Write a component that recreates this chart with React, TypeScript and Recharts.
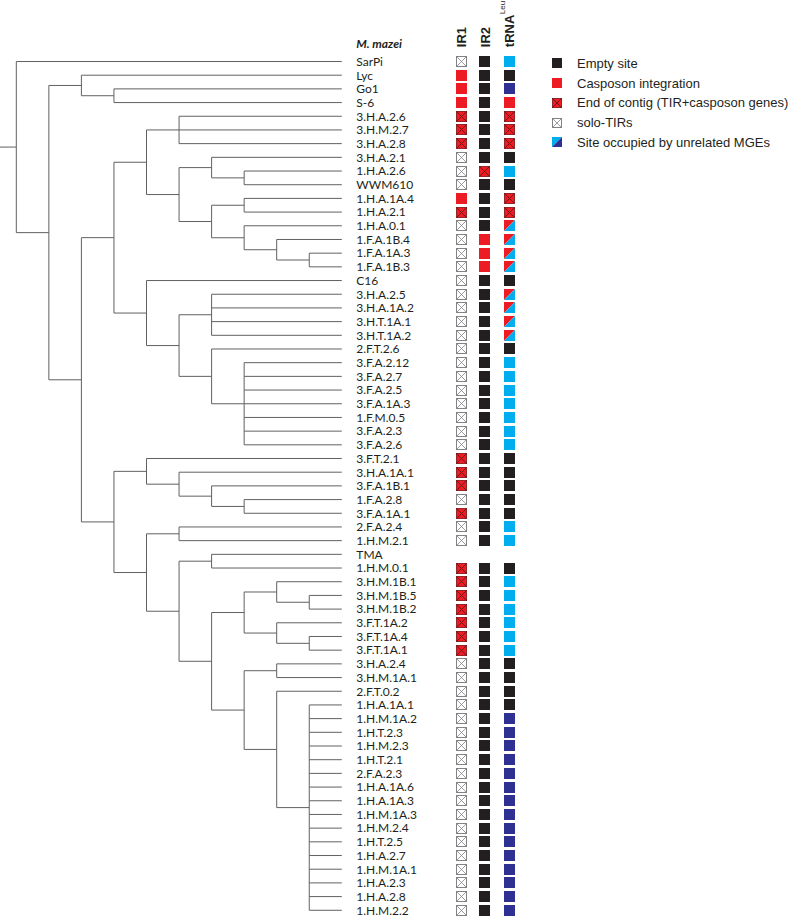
import React from 'react'
import { ComposedChart, XAxis, YAxis, Scatter, ReferenceLine, Legend } from 'recharts'

type Tree = string | Tree[]

const CHART_W = 799
const CHART_H = 918

// pixel layout of the figure
const ROOT_PX = 16.3 // x of the root node
const DEPTH_PX = 32.55 // x step per tree level
const ROW0_PX = 61.5 // y of the first leaf
const ROW_PX = 13.69 // y step per leaf
const COL0_PX = 461 // x of the first state column
const COL_PX = 24 // x step per state column

const LEAF_DEPTH = 10
const HEADER_ROW = -1.3
const COL_HEADER_ROW = -1.05

const INK = '#231f20'
const RED = '#ed1c24'
const CYAN = '#00aeef'
const NAVY = '#2e3192'
const GREY = '#808285'
const BRANCH = '#606163'

// cladogram, leaf order = row order
const TREE: Tree = [
  'SarPi',
  [
    ['Lyc', ['Go1', 'S-6']],
    [
      [
        [
          ['3.H.A.2.6', '3.H.M.2.7', '3.H.A.2.8'],
          [
            ['3.H.A.2.1', ['1.H.A.2.6', 'WWM610']],
            [['1.H.A.1A.4', '1.H.A.2.1'], ['1.H.A.0.1', ['1.F.A.1B.4', ['1.F.A.1A.3', '1.F.A.1B.3']]]],
          ],
        ],
        [
          'C16',
          [
            ['3.H.A.2.5', '3.H.A.1A.2', '3.H.T.1A.1', '3.H.T.1A.2'],
            ['2.F.T.2.6', ['3.F.A.2.12', '3.F.A.2.7', '3.F.A.2.5', '3.F.A.1A.3', '1.F.M.0.5', '3.F.A.2.3', '3.F.A.2.6']],
          ],
        ],
      ],
      [
        ['3.F.T.2.1', ['3.H.A.1A.1', ['3.F.A.1B.1', ['1.F.A.2.8', '3.F.A.1A.1']]]],
        [
          ['2.F.A.2.4', '1.H.M.2.1'],
          [
            ['TMA', '1.H.M.0.1'],
            [
              [['3.H.M.1B.1', ['3.H.M.1B.5', '3.H.M.1B.2']], ['3.F.T.1A.2', ['3.F.T.1A.4', '3.F.T.1A.1']]],
              [
                ['3.H.A.2.4', '3.H.M.1A.1'],
                [
                  '2.F.T.0.2',
                  [
                    '1.H.A.1A.1', '1.H.M.1A.2', '1.H.T.2.3', '1.H.M.2.3', '1.H.T.2.1', '2.F.A.2.3',
                    '1.H.A.1A.6', '1.H.A.1A.3', '1.H.M.1A.3', '1.H.M.2.4', '1.H.T.2.5', '1.H.A.2.7',
                    '1.H.M.1A.1', '1.H.A.2.3', '1.H.A.2.8', '1.H.M.2.2',
                  ],
                ],
              ],
            ],
          ],
        ],
      ],
    ],
  ],
]

// site states per leaf (same order as the tree leaves)
// E empty, C casposon, X end of contig, S solo-TIR, M unrelated MGE, D unrelated MGE (dark), H casposon/MGE, - none
const COLUMNS = ['IR1', 'IR2', 'tRNA']
const IR1 = `S C C C X X X S S S
  C X S S S S S S S S
  S S S S S S S S S X
  X X S X S S - X X X
  X X X X S S S S S S
  S S S S S S S S S S
  S S S`.split(/\s+/)
const IR2 = `E E E E E E E E X E
  E E E C C C E E E E
  E E E E E E E E E E
  E E E E E E - E E E
  E E E E E E E E E E
  E E E E E E E E E E
  E E E`.split(/\s+/)
const TRNA = `M E D C X X X E M E
  X X H H H H E H H H
  H E M M M M M M M E
  E E E E M M - E M M
  M M M M E E E E D D
  D D D D D D D D D D
  D D D`.split(/\s+/)
const STATES = [IR1, IR2, TRNA]

const LEGEND_KINDS = ['E', 'C', 'X', 'S', 'G']
const LEGEND_LABELS = [
  'Empty site',
  'Casposon integration',
  'End of contig (TIR+casposon genes)',
  'solo-TIRs',
  'Site occupied by unrelated MGEs',
]

const TREE_DOMAIN = [-ROOT_PX / DEPTH_PX, (CHART_W - ROOT_PX) / DEPTH_PX]
const CELL_DOMAIN = [-COL0_PX / COL_PX, (CHART_W - COL0_PX) / COL_PX]
const ROW_DOMAIN = [-ROW0_PX / ROW_PX, (CHART_H - ROW0_PX) / ROW_PX]

const leafRows: { x: number; y: number; name: string }[] = []
const branches: number[][] = []

function place(node: Tree, depth: number): number {
  if (typeof node === 'string') {
    const y = leafRows.length
    leafRows.push({ x: LEAF_DEPTH, y, name: node })
    return y
  }
  const ys = node.map((child) => {
    const y = place(child, depth + 1)
    branches.push([depth, y, typeof child === 'string' ? LEAF_DEPTH : depth + 1, y])
    return y
  })
  branches.push([depth, ys[0], depth, ys[ys.length - 1]])
  return (ys[0] + ys[ys.length - 1]) / 2
}
const rootRow = place(TREE, 0)
branches.push([TREE_DOMAIN[0], rootRow, 0, rootRow])

function cellIcon(kind: string, cx: number, cy: number, s: number) {
  const x = Math.round(cx - s / 2)
  const y = Math.round(cy - s / 2)
  const cross = (color: string, w: number) => (
    <>
      <line x1={x + 0.5} y1={y + 0.5} x2={x + s - 0.5} y2={y + s - 0.5} stroke={color} strokeWidth={w} />
      <line x1={x + s - 0.5} y1={y + 0.5} x2={x + 0.5} y2={y + s - 0.5} stroke={color} strokeWidth={w} />
    </>
  )
  if (kind === 'S')
    return (
      <g>
        <rect x={x + 0.5} y={y + 0.5} width={s - 1} height={s - 1} fill="#fff" stroke={GREY} strokeWidth={1} />
        {cross(GREY, 0.8)}
      </g>
    )
  if (kind === 'X')
    return (
      <g>
        <rect x={x + 0.4} y={y + 0.4} width={s - 0.8} height={s - 0.8} fill={RED} stroke="#7a1518" strokeWidth={0.8} />
        {cross('#5a1012', 0.8)}
      </g>
    )
  if (kind === 'H' || kind === 'G') {
    const a = kind === 'H' ? RED : CYAN
    const b = kind === 'H' ? CYAN : NAVY
    return (
      <g>
        <polygon points={`${x},${y} ${x + s},${y} ${x},${y + s}`} fill={a} />
        <polygon points={`${x + s},${y} ${x + s},${y + s} ${x},${y + s}`} fill={b} />
      </g>
    )
  }
  const fill = kind === 'C' ? RED : kind === 'M' ? CYAN : kind === 'D' ? NAVY : INK
  return <rect x={x} y={y} width={s} height={s} fill={fill} />
}

const LeafLabel = (p: any) => (
  <text x={p.cx + 14.5} y={p.cy} dy="0.36em" fontFamily="Lato, sans-serif" fontSize={12} fill={INK}>
    {p.payload.name}
  </text>
)

const TitleLabel = (p: any) => (
  <text
    x={p.cx + 14.5}
    y={p.cy}
    dy="0.38em"
    fontFamily="Lato, sans-serif"
    fontSize={12}
    fontWeight={700}
    fontStyle="italic"
    fill={INK}
  >
    {p.payload.name}
  </text>
)

const ColumnHeader = (p: any) => {
  const x = p.cx + 4.6
  const y = p.cy
  return (
    <text
      x={x}
      y={y}
      transform={`rotate(-90 ${x} ${y})`}
      fontFamily='"Liberation Sans", Arial, sans-serif'
      fontSize={13}
      fontWeight={700}
      fill={INK}
    >
      {p.payload.name}
      {p.payload.name === 'tRNA' && (
        <tspan dy={-9} dx={0.5} fontSize={8} fontWeight={400}>
          Leu
        </tspan>
      )}
    </text>
  )
}

const Cell = (p: any) => cellIcon(p.payload.kind, p.cx, p.cy, 11)

const renderLegend = () => (
  <div style={{ fontFamily: '"Liberation Sans", Arial, sans-serif', fontSize: 13, color: INK }}>
    {LEGEND_KINDS.map((k, i) => (
      <div key={k} style={{ display: 'flex', alignItems: 'center', height: 19.8, whiteSpace: 'nowrap' }}>
        <svg width={10} height={10} style={{ marginRight: 15, flex: 'none' }}>
          {cellIcon(k, 5, 5, 10)}
        </svg>
        <span>{LEGEND_LABELS[i]}</span>
      </div>
    ))}
  </div>
)

export default function App() {
  const headerData = COLUMNS.map((name, i) => ({ x: i, y: COL_HEADER_ROW, name }))
  return (
    <div style={{ position: 'absolute', left: 0, top: 0, background: '#fff' }}>
      <ComposedChart width={CHART_W} height={CHART_H} margin={{ top: 0, right: 0, bottom: 0, left: 0 }}>
        <XAxis xAxisId="tree" type="number" dataKey="x" domain={TREE_DOMAIN} allowDataOverflow hide />
        <XAxis xAxisId="cells" type="number" dataKey="x" domain={CELL_DOMAIN} allowDataOverflow hide />
        <YAxis yAxisId="rows" type="number" dataKey="y" domain={ROW_DOMAIN} allowDataOverflow reversed hide />
        {branches.map((b, i) => (
          <ReferenceLine
            key={i}
            xAxisId="tree"
            yAxisId="rows"
            segment={[
              { x: b[0], y: b[1] },
              { x: b[2], y: b[3] },
            ]}
            stroke={BRANCH}
            strokeWidth={1}
            ifOverflow="visible"
          />
        ))}
        <Scatter xAxisId="tree" yAxisId="rows" data={leafRows} shape={LeafLabel} isAnimationActive={false} />
        <Scatter
          xAxisId="tree"
          yAxisId="rows"
          data={[{ x: LEAF_DEPTH, y: HEADER_ROW, name: 'M. mazei' }]}
          shape={TitleLabel}
          isAnimationActive={false}
        />
        {STATES.map((codes, ci) => (
          <Scatter
            key={COLUMNS[ci]}
            xAxisId="cells"
            yAxisId="rows"
            data={codes.map((kind, row) => ({ x: ci, y: row, kind })).filter((d) => d.kind !== '-')}
            shape={Cell}
            isAnimationActive={false}
          />
        ))}
        <Scatter xAxisId="cells" yAxisId="rows" data={headerData} shape={ColumnHeader} isAnimationActive={false} />
        <Legend
          layout="vertical"
          align="center"
          verticalAlign="middle"
          content={renderLegend}
          wrapperStyle={{ left: 552, top: 53.4, width: 240, height: 100 }}
        />
      </ComposedChart>
    </div>
  )
}
